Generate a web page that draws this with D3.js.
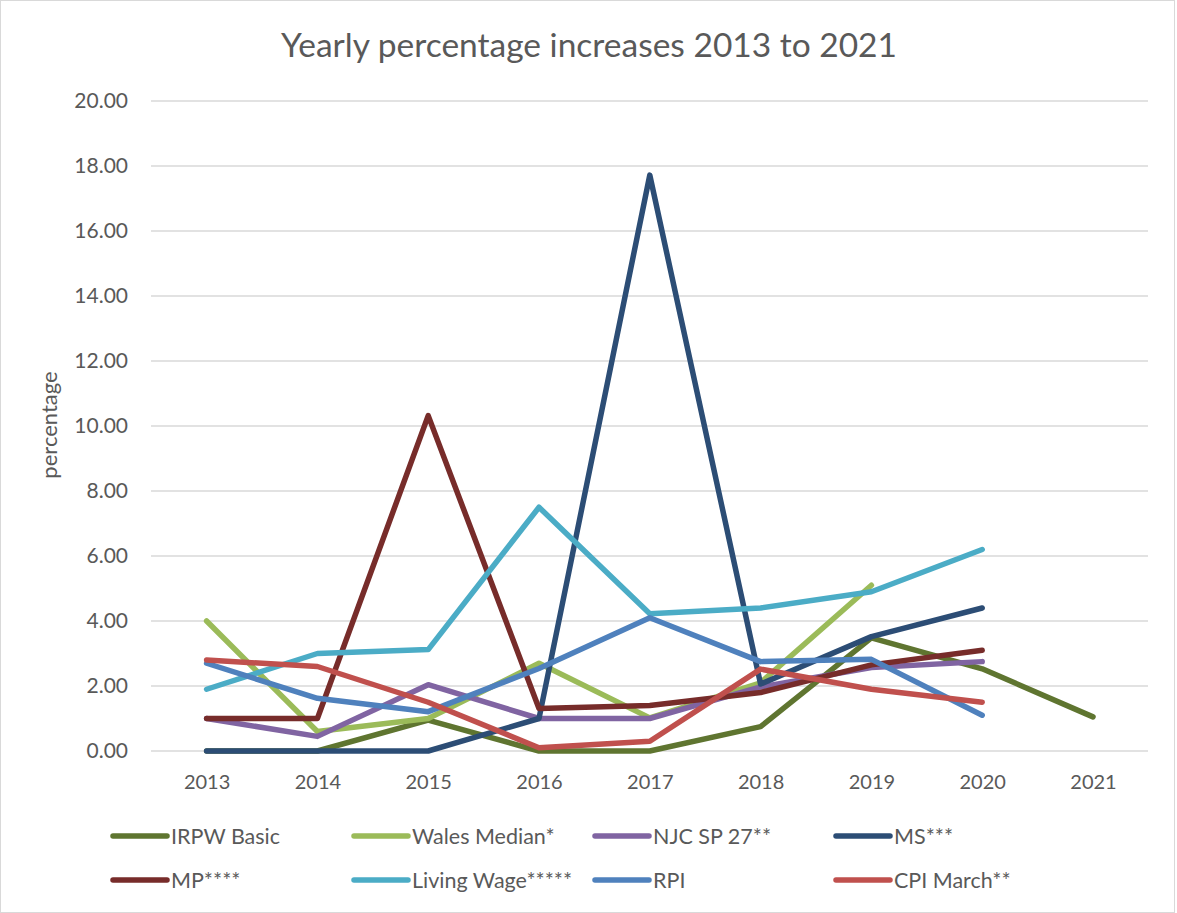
<!DOCTYPE html>
<html>
<head>
<meta charset="utf-8">
<script src="https://cdn.jsdelivr.net/npm/d3@7"></script>
<style>
  body { margin: 0; background: #fff; }
  svg { display: block; font-family: Lato, "Open Sans", sans-serif; }
</style>
</head>
<body>
<script>
// chart values
const years = ["2013", "2014", "2015", "2016", "2017", "2018", "2019", "2020", "2021"];
const yTicks = [0, 2, 4, 6, 8, 10, 12, 14, 16, 18, 20];

const irpwBasic   = [0, 0, 0.95, 0, 0, 0.75, 3.48, 2.53, 1.05];
const walesMedian = [4.0, 0.6, 1.0, 2.7, 1.02, 2.1, 5.1, null, null];
const njcSp27     = [1.0, 0.45, 2.04, 1.0, 1.0, 1.97, 2.57, 2.75, null];
const ms          = [0, 0, 0, 1.0, 17.72, 2.06, 3.52, 4.4, null];
const mp          = [1.0, 1.0, 10.32, 1.31, 1.4, 1.8, 2.65, 3.1, null];
const livingWage  = [1.9, 3.0, 3.12, 7.5, 4.22, 4.4, 4.9, 6.2, null];
const rpi         = [2.7, 1.62, 1.21, 2.54, 4.1, 2.75, 2.82, 1.1, null];
const cpiMarch    = [2.8, 2.6, 1.5, 0.1, 0.3, 2.52, 1.9, 1.5, null];

const series = [
  { name: "IRPW Basic",       values: irpwBasic,   color: "#5f7530" },
  { name: "Wales Median*",    values: walesMedian, color: "#9bbb59" },
  { name: "NJC SP 27**",      values: njcSp27,     color: "#8064a2" },
  { name: "MS***",            values: ms,          color: "#2c4d75" },
  { name: "MP****",           values: mp,          color: "#772c2a" },
  { name: "Living Wage*****", values: livingWage,  color: "#4bacc6" },
  { name: "RPI",              values: rpi,         color: "#4f81bd" },
  { name: "CPI March**",      values: cpiMarch,    color: "#c0504d" }
];

const width = 1177, height = 913;
const textColor = "#595959";

const svg = d3.select("body").append("svg")
    .attr("width", width)
    .attr("height", height);

// outer chart frame
svg.append("rect")
    .attr("x", 0.5).attr("y", 0.5)
    .attr("width", width - 3).attr("height", height - 1)
    .attr("fill", "#fff")
    .attr("stroke", "#d9d9d9");

// scales
const x = d3.scalePoint()
    .domain(years)
    .range([206.6, 1093])
    .padding(0);

const y = d3.scaleLinear()
    .domain([0, 20])
    .range([751, 101]);

const plotLeft = 151, plotRight = 1148;

// horizontal gridlines
svg.append("g")
  .selectAll("line")
  .data(yTicks)
  .join("line")
    .attr("x1", plotLeft)
    .attr("x2", plotRight)
    .attr("y1", d => y(d))
    .attr("y2", d => y(d))
    .attr("stroke", "#d9d9d9")
    .attr("stroke-width", 1.5);

// y axis tick labels
const yAxis = svg.append("g")
    .attr("transform", `translate(${plotLeft},0)`)
    .call(d3.axisLeft(y).tickValues(yTicks).tickFormat(d3.format(".2f")).tickSize(0).tickPadding(23));
yAxis.select(".domain").remove();
yAxis.selectAll("text")
    .attr("fill", textColor)
    .style("font-size", "21px")
    .style("font-family", "Lato, 'Open Sans', sans-serif");

// x axis tick labels
const xAxis = svg.append("g")
    .attr("transform", `translate(0,${y(0)})`)
    .call(d3.axisBottom(x).tickSize(0).tickPadding(24));
xAxis.select(".domain").remove();
xAxis.selectAll("text")
    .attr("fill", textColor)
    .style("font-size", "20px")
    .style("font-family", "Lato, 'Open Sans', sans-serif");

// title
svg.append("text")
    .attr("x", 589)
    .attr("y", 57)
    .attr("text-anchor", "middle")
    .attr("fill", textColor)
    .style("font-size", "33.5px")
    .text("Yearly percentage increases 2013 to 2021");

// y axis title
svg.append("text")
    .attr("transform", "translate(57,425) rotate(-90)")
    .attr("text-anchor", "middle")
    .attr("fill", textColor)
    .style("font-size", "22px")
    .text("percentage");

// lines
const line = d3.line()
    .defined(d => d.v !== null)
    .x(d => x(d.year))
    .y(d => y(d.v));

svg.append("g")
  .selectAll("path")
  .data(series)
  .join("path")
    .attr("d", s => line(years.map((yr, i) => ({ year: yr, v: s.values[i] }))))
    .attr("fill", "none")
    .attr("stroke", s => s.color)
    .attr("stroke-width", 5.5)
    .attr("stroke-linejoin", "round")
    .attr("stroke-linecap", "round");

// legend, 4 columns x 2 rows
const legendCols = [113, 354, 595, 836];
const legendRows = [836, 880];

const legend = svg.append("g")
  .selectAll("g")
  .data(series)
  .join("g")
    .attr("transform", (s, i) => `translate(${legendCols[i % 4]},${legendRows[Math.floor(i / 4)]})`);

legend.append("line")
    .attr("x1", 0).attr("x2", 54)
    .attr("stroke", s => s.color)
    .attr("stroke-width", 5.5)
    .attr("stroke-linecap", "round");

legend.append("text")
    .attr("x", 58)
    .attr("dy", "0.35em")
    .attr("fill", textColor)
    .style("font-size", "21.5px")
    .text(s => s.name);
</script>
</body>
</html>
